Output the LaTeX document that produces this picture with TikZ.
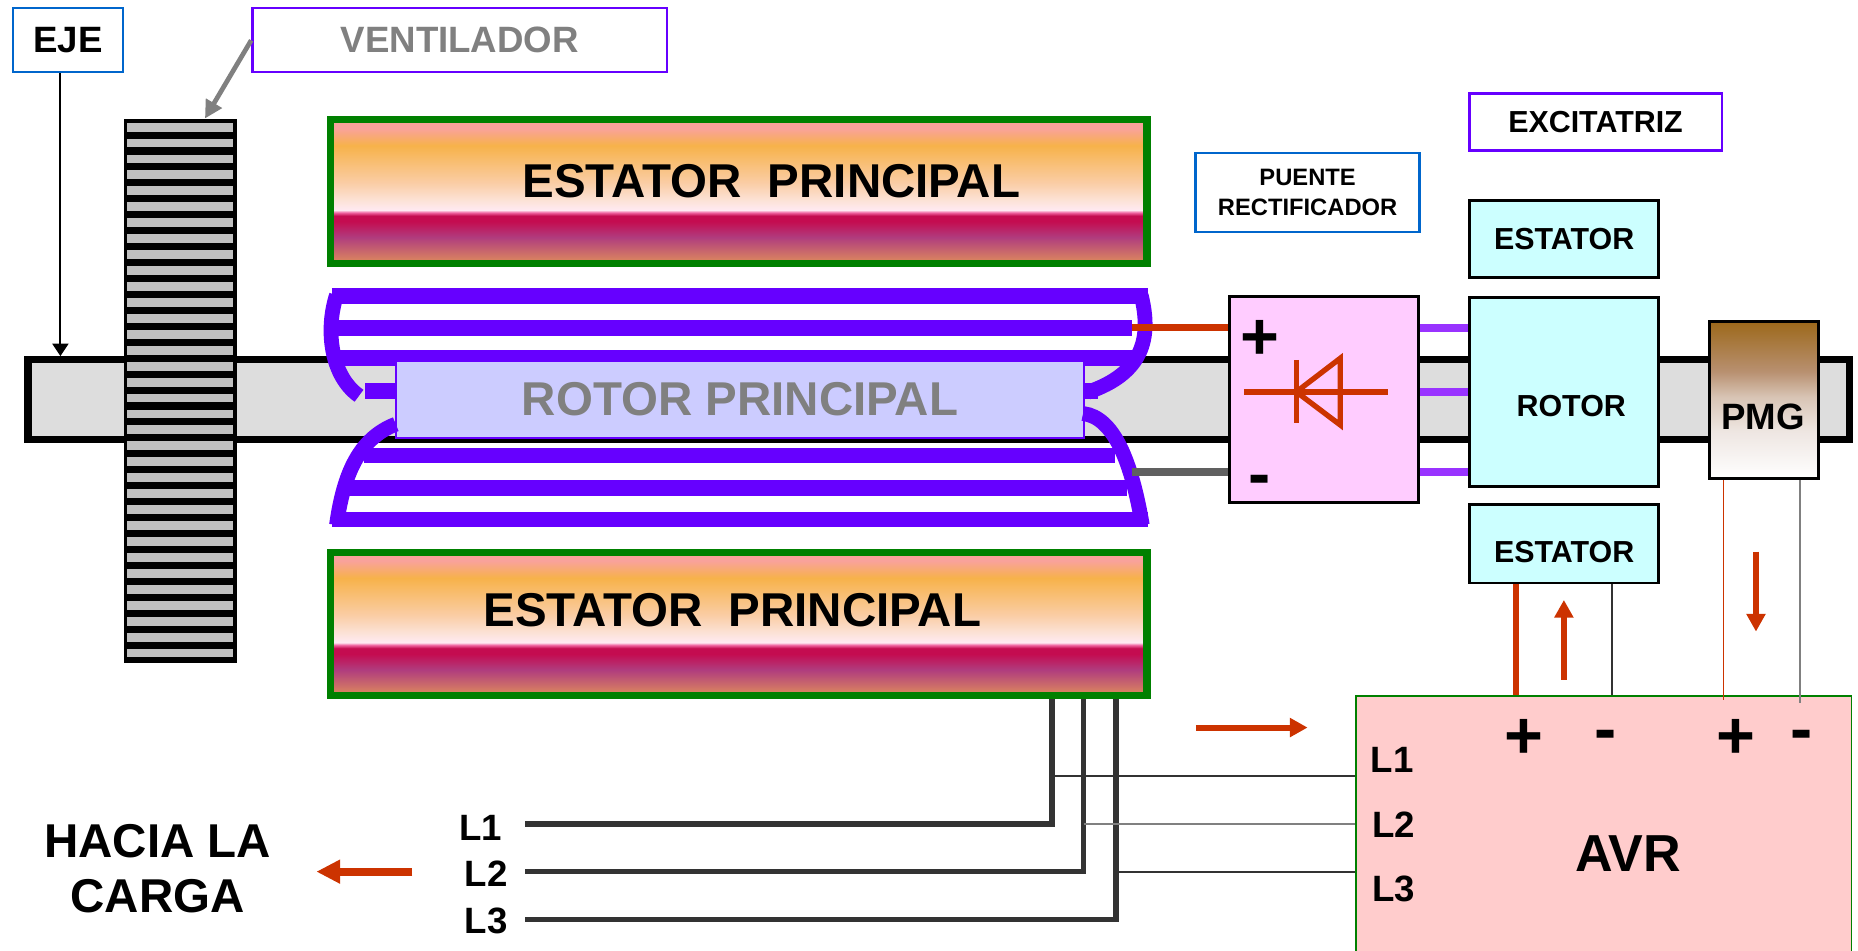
\documentclass[tikz,border=0pt]{standalone}
\usepackage{fontspec}
\setmainfont{Liberation Sans}
\usetikzlibrary{arrows.meta}

\definecolor{tagblue}{RGB}{0,102,204}
\definecolor{tagviolet}{RGB}{102,0,255}
\definecolor{coilviolet}{RGB}{102,0,255}
\definecolor{linkviolet}{RGB}{153,51,255}
\definecolor{statorgreen}{RGB}{0,128,0}
\definecolor{shaftgray}{RGB}{221,221,221}
\definecolor{bladegray}{RGB}{192,192,192}
\definecolor{labelgray}{RGB}{128,128,128}
\definecolor{rotorlav}{RGB}{204,204,255}
\definecolor{bridgepink}{RGB}{255,204,255}
\definecolor{exccyan}{RGB}{204,255,255}
\definecolor{avrpink}{RGB}{255,204,204}
\definecolor{flowred}{RGB}{204,51,0}
\definecolor{wiregray}{RGB}{96,96,96}
\definecolor{phasegray}{RGB}{51,51,51}
\definecolor{stTan}{RGB}{222,140,92}
\definecolor{stPurple}{RGB}{176,60,126}
\definecolor{stCrimson}{RGB}{196,12,80}
\definecolor{stPink}{RGB}{240,100,160}
\definecolor{stWhite}{RGB}{255,233,242}
\definecolor{stBlush}{RGB}{252,226,214}
\definecolor{stPeach}{RGB}{250,205,165}
\definecolor{stOrange}{RGB}{247,178,74}
\definecolor{stRose}{RGB}{249,162,155}
\definecolor{pmgA}{RGB}{238,230,226}
\definecolor{pmgB}{RGB}{216,196,180}
\definecolor{pmgC}{RGB}{184,144,112}
\definecolor{pmgBrown}{RGB}{156,104,26}

\pgfdeclareverticalshading{statorfill}{100bp}{color(0bp)=(stTan); color(25bp)=(stTan); color(34bp)=(stPurple); color(39.5bp)=(stCrimson); color(41.5bp)=(stCrimson); color(42.6bp)=(stPink); color(43.5bp)=(stWhite); color(47bp)=(stBlush); color(53bp)=(stPeach); color(66bp)=(stOrange); color(72bp)=(stRose); color(100bp)=(stRose)}
\pgfdeclareverticalshading{pmgfill}{100bp}{color(0bp)=(white); color(25bp)=(white); color(40bp)=(pmgA); color(51bp)=(pmgB); color(59bp)=(pmgC); color(75bp)=(pmgBrown); color(100bp)=(pmgBrown)}

\begin{document}
\begin{tikzpicture}[x=0.1mm, y=-0.1mm,
  tag/.style={draw, line width=0.2mm, fill=white, inner sep=0pt},
  block/.style={draw, line width=0.25mm, inner sep=0pt},
  stator/.style={draw=statorgreen, line width=0.6mm, shading=statorfill, minimum width=68.9mm, minimum height=12.1mm, inner sep=0pt},
  coilbar/.style={coilviolet, line width=1.3mm},
  coilend/.style={coilviolet, line width=1.25mm},
  flow/.style={flowred, line width=0.5mm, -{Triangle[length=1.5mm, width=1.55mm]}},
  phase/.style={phasegray, line width=0.45mm},
  tap/.style={line width=0.14mm},
  fbig/.style={font=\fontsize{11.4}{13.4}\selectfont\bfseries},
  fmid/.style={font=\fontsize{8.8}{10}\selectfont\bfseries},
  fsmall/.style={font=\fontsize{7.3}{8.5}\selectfont\bfseries},
  ftiny/.style={font=\fontsize{5.7}{7.1}\selectfont\bfseries},
  sign/.style={font=\fontsize{16}{18}\selectfont\bfseries, inner sep=0pt, anchor=base}]

\clip (0,0) rectangle (1568,802);

% shaft and fan
\node[block, line width=0.63mm, fill=shaftgray, minimum width=153.75mm, minimum height=6.75mm] (shaft) at (792.3,337.3) {};
\node[block, fill=black, minimum width=9.3mm, minimum height=45.7mm] (fan) at (152,330) {};
\foreach \i in {0,...,33}
  \fill[bladegray] (107.5,103.5+13.45*\i) rectangle ++(89,7.5);

\node[tag, draw=tagblue, fmid, minimum width=9.3mm, minimum height=5.4mm] (eje) at (57.5,34) {EJE};
\node[tag, draw=tagviolet, fmid, text=labelgray, minimum width=35mm, minimum height=5.4mm] (vent) at (388,34) {VENTILADOR};
\coordinate (shafttop) at (51,300.5);
\coordinate (fantop) at (173,100);
\draw[line width=0.17mm, -{Triangle[length=1.05mm, width=1.35mm]}] (eje.south -| shafttop) -- (shafttop);
\draw[labelgray, line width=0.4mm, -{Triangle[length=1.5mm, width=1.5mm]}] (vent.west) -- (fantop);

% main stator
\node[stator] (statorTop) at (623.5,161.5) {};
\node[fbig] (statorTopText) at (651,153) {ESTATOR\ \ PRINCIPAL};
\node[stator] (statorBot) at (623.5,526.5) {};
\node[fbig] (statorBotText) at (618,515) {ESTATOR\ \ PRINCIPAL};

% windings and main rotor
\draw[coilbar] (280,249.7) -- (968.7,249.7);
\draw[coilbar] (284.6,276.7) -- (955.6,276.7);
\draw[coilbar] (279.8,302) -- (955.6,302);
\draw[coilbar] (307.4,384.4) -- (941.1,384.4);
\draw[coilbar] (289.5,411.7) -- (950.7,411.7);
\draw[coilbar] (279.8,438.4) -- (968.7,438.4);
\node[block, draw=coilviolet, line width=0.15mm, fill=rotorlav, fbig, text=labelgray, minimum width=58mm, minimum height=6.5mm] (rotorMain) at (624.5,337) {ROTOR PRINCIPAL};
\draw[coilend] (284,249) .. controls (274,280) and (280,318) .. (303,334);
\draw[coilend] (963,249) .. controls (972,285) and (965,315) .. (918,331);
\draw[coilend] (334,358) .. controls (303,370) and (290,400) .. (284,443);
\draw[coilend] (914,349) .. controls (940,352) and (955,390) .. (964,443);
\fill[coilviolet] (308,323) rectangle (334.5,337);
\fill[coilviolet] (914.5,323) rectangle (927,337);
\coordinate (leadPlus) at (955.6,276.4);
\coordinate (leadMinus) at (955.6,398.3);

% rectifier bridge
\node[block, fill=bridgepink, minimum width=16mm, minimum height=17.4mm] (bridge) at (1117.3,337.4) {};
\draw[flowred, line width=0.65mm] (leadPlus) -- (leadPlus -| bridge.west);
\draw[wiregray, line width=0.65mm] (leadMinus) -- (leadMinus -| bridge.west);
\draw[flowred, line width=0.45mm] (1049.7,330.7) -- (1171.2,330.7);
\draw[flowred, line width=0.45mm] (1094,303.8) -- (1094,357.2);
\draw[flowred, line width=0.45mm] (1131,302.4) -- (1131,358.6) -- (1094,330.7) -- cycle;
\node[sign] (bridgePlus) at (1063.5,303) {+};
\node[sign] (bridgeMinus) at (1063.4,419) {-};

% exciter and pmg
\node[block, fill=exccyan, minimum width=16mm, minimum height=16mm] (rotorExc) at (1320,330.8) {};
\foreach \y in {277,331,398.5}
  \draw[linkviolet, line width=0.65mm] (bridge.east |- 0,\y) -- (rotorExc.west |- 0,\y);
\node[fsmall] (rotorExcText) at (1326,342.5) {ROTOR};
\node[block, fill=exccyan, fsmall, minimum width=16mm, minimum height=6.5mm] (statorExcTop) at (1320,201.5) {ESTATOR};
\node[block, fill=exccyan, minimum width=16mm, minimum height=6.6mm] (statorExcBot) at (1320,459) {};
\node[fsmall] (statorExcBotText) at (1320,466) {ESTATOR};
\node[block, shading=pmgfill, minimum width=9.2mm, minimum height=13.3mm] (pmg) at (1488.6,337.5) {};
\node[fmid] (pmgText) at (1488,352) {PMG};

\node[tag, draw=tagviolet, fsmall, minimum width=21.3mm, minimum height=4.8mm] (excTag) at (1346.5,103) {EXCITATRIZ};
\node[tag, draw=tagblue, ftiny, align=center, minimum width=18.9mm, minimum height=6.7mm] (bridgeTag) at (1103.5,162.5) {PUENTE\\RECTIFICADOR};

% regulator
\node[draw=statorgreen, line width=0.15mm, fill=avrpink, minimum width=41.8mm, minimum height=24.5mm, inner sep=0pt] (avr) at (1353.5,710) {};
\node[sign] (avrPlusA) at (1286,640.5) {+};
\node[sign] (avrMinusA) at (1355,634.5) {-};
\node[sign] (avrPlusB) at (1465,640.5) {+};
\node[sign] (avrMinusB) at (1520,634.5) {-};
\node[fmid] (avrL1) at (1175,641.5) {L1};
\node[fmid] (avrL2) at (1176,696) {L2};
\node[fmid] (avrL3) at (1176,750) {L3};
\node[font=\fontsize{12.5}{14}\selectfont\bfseries] (avrText) at (1374,720.5) {AVR};

\coordinate (fieldPlus) at (1279.5,0);
\coordinate (fieldMinus) at (1360.3,0);
\coordinate (pmgPlusEnd) at (1454.3,591);
\coordinate (pmgMinusEnd) at (1519,593.5);
\draw[flowred, line width=0.5mm] (statorExcBot.south -| fieldPlus) -- (avr.north -| fieldPlus);
\draw[phasegray, line width=0.18mm] (statorExcBot.south -| fieldMinus) -- (avr.north -| fieldMinus);
\draw[flowred, line width=0.12mm] (pmg.south -| pmgPlusEnd) -- (pmgPlusEnd);
\draw[labelgray, line width=0.14mm] (pmg.south -| pmgMinusEnd) -- (pmgMinusEnd);

\draw[flow] (1319.8,573.8) -- (1319.8,506.3);
\draw[flow] (1481.9,465.5) -- (1481.9,533);
\draw[flow] (1009.3,614) -- (1103.5,614);

% output phases
\coordinate (ph1) at (887.8,695.5);
\coordinate (ph2) at (914.5,735.7);
\coordinate (ph3) at (941.8,776.2);
\coordinate (loadEnd) at (442.7,0);
\foreach \p in {ph1,ph2,ph3}
  \draw[phase] (statorBot.south -| \p) |- (loadEnd |- \p);
\coordinate (tap1) at (887.8,654.9);
\draw[tap, phasegray] (tap1) -- (tap1 -| avr.west);
\draw[tap, labelgray] (ph2 |- ph1) -- (avr.west |- ph1);
\draw[tap, phasegray] (ph3 |- ph2) -- (avr.west |- ph2);
\node[fmid] (loadL1) at (405.6,699) {L1};
\node[fmid] (loadL2) at (410.2,737.7) {L2};
\node[fmid] (loadL3) at (410.2,777) {L3};
\node[fbig, align=center] (load) at (133,733) {HACIA LA\\CARGA};
\draw[flow, line width=0.7mm, -{Triangle[length=2mm, width=1.9mm]}] (348,735.6) -- (267,735.6);
\end{tikzpicture}
\end{document}
